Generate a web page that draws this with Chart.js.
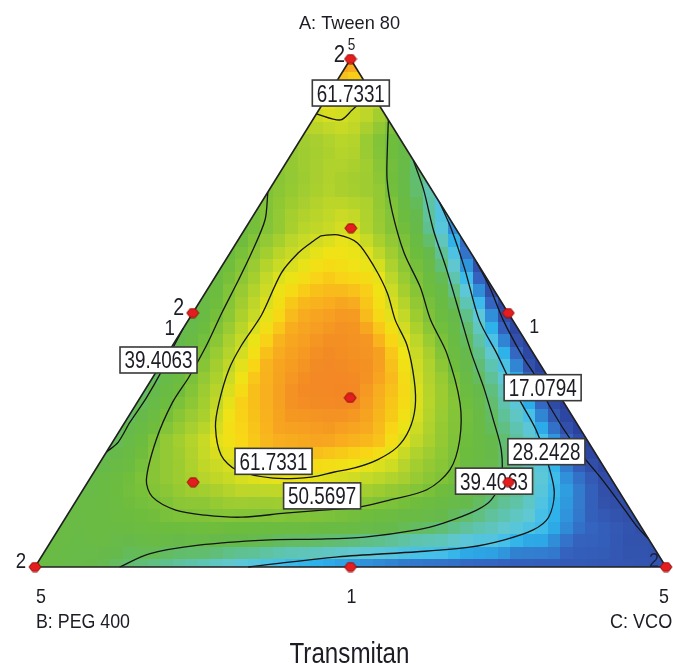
<!DOCTYPE html>
<html><head><meta charset="utf-8">
<script src="https://cdn.jsdelivr.net/npm/chart.js"></script>
<style>html,body{margin:0;padding:0;background:#fff;overflow:hidden}canvas{display:block}</style>
</head><body>
<canvas id="c" width="673" height="665" style="width:673px;height:665px"></canvas>
<script>
// ---- Components (axis titles) ----
const componentNames = ['A: Tween 80', 'B: PEG 400', 'C: VCO'];
const chartTitle = 'Transmitan';
const contourLevels = [17.0794, 28.2428, 39.4063, 50.5697, 61.7331];

// ---- Design points: [A %, C %] and replicate counts ----
const designA = [100, 0, 0, 50, 50, 0, 33.3, 66.7, 16.7, 16.7];
const designC = [0, 0, 100, 0, 50, 50, 33.3, 16.7, 16.7, 66.7];
const designReps = [2, 2, 2, 2, 1, 1, 1, 1, 1, 1];

// ---- Response surface read on a 12-step ternary lattice (row r: A=r/12, k: C=k/12) ----
const row00 = [45, 42, 37, 33, 28.5, 25, 23, 21, 20, 19, 18.5, 18, 17.5];
const row01 = [44, 45, 48, 49, 48, 47, 44, 40, 34, 28, 20, 17];
const row02 = [43, 50, 56, 60, 61, 59, 55, 48, 38, 25, 15];
const row03 = [39.5, 53, 61.5, 67, 68, 66, 56, 44, 29.5, 13];
const row04 = [39, 52, 65, 70, 70.5, 64, 51, 31.5, 12];
const row05 = [39.5, 55, 67, 70, 69, 56, 35, 13];
const row06 = [41, 57, 67, 69, 58.5, 41, 14];
const row07 = [46, 59, 64, 61.5, 45, 16];
const row08 = [47, 57, 60.5, 48.5, 22];
const row09 = [51, 56.5, 53.5, 32.5];
const row10 = [54, 57.5, 44];
const row11 = [62, 58];
const row12 = [69];
const fieldRows = [row00, row01, row02, row03, row04, row05, row06, row07, row08, row09, row10, row11, row12];

// ---- Contour lines, points as [A %, C %] ----
const contour17 = [[60.0,40.0],[55.1,44.5],[48.6,49.9],[41.3,56.7],[37.4,60.7],[31.9,65.5],[23.6,73.9],[17.1,81.4],[11.2,87.9],[7.9,91.5],[5.5,94.5]];
const contour28 = [[71.7,28.3],[66.3,32.9],[58.5,38.9],[48.6,46.1],[42.1,52.1],[36.8,56.8],[32.3,60.9],[27.0,65.9],[19.7,71.6],[14.6,75.0],[9.8,76.5],[7.3,75.3],[5.3,71.6],[3.9,66.9],[3.0,59.1],[2.0,47.0],[0,33.8]];
const contour39 = [[80.1,19.9],[74.2,24.5],[66.3,30.0],[58.5,36.0],[48.6,43.3],[42.1,48.1],[35.4,53.4],[28.9,58.2],[23.0,62.4],[17.1,65.3],[13.2,65.7],[11.2,64.4],[8.7,60.5],[7.3,56.9],[5.9,49.3],[5.5,42.1],[5.3,33.8],[4.3,23.8],[2.6,16.8],[0,13.4]];
const contour39b = [[47.0,0],[43.1,0.3],[38.4,0.8],[33.3,1.0],[28.5,0.8],[24.6,0.9],[22.6,0]];
const contour50 = [[73.8,0],[68.3,2.3],[61.8,3.4],[56.5,4.0],[50.0,4.6],[43.3,5.4],[37.4,5.7],[32.3,5.6],[25.0,6.7],[17.1,9.1],[13.8,11.7],[11.2,16.7],[10.2,21.9],[9.8,27.8],[10.6,34.3],[11.2,40.0],[11.8,45.5],[13.2,49.7],[15.2,54.5],[19.1,56.2],[25.0,54.8],[32.3,51.2],[42.1,44.2],[48.6,38.4],[55.1,33.5],[61.8,27.6],[69.7,21.8],[76.2,17.7],[82.7,14.5],[88.0,12.0]];
const contour61 = [[65.2,12.7],[65.4,15.3],[63.8,19.2],[59.1,24.2],[53.9,28.9],[48.6,32.8],[43.7,37.1],[36.8,41.7],[31.5,44.5],[27.0,45.8],[23.6,45.6],[21.1,43.7],[19.5,40.9],[18.7,38.1],[17.7,34.9],[17.5,29.0],[19.1,22.4],[22.0,18.5],[27.6,14.8],[32.3,13.0],[38.8,11.3],[43.7,10.9],[49.6,11.1],[57.9,10.1],[61.8,10.8],[63.8,11.8],[65.2,12.7]];
const contour61top = [[89.2,0],[88.0,4.4],[90.0,5.3],[91.7,6.0],[92.7,7.3]];

// ---- Contour labels ----
const labelText = ['61.7331', '39.4063', '61.7331', '50.5697', '39.4063', '28.2428', '17.0794'];
const labelA = [93.3, 40.75, 20.8, 14.0, 16.9, 22.7, 35.3];
const labelC = [3.4, -0.8, 27.4, 38.5, 64.3, 69.7, 62.8];

// ---------------------------------------------------------------
const FONT = '"Liberation Sans", Arial, sans-serif';
function tern(A, C) { return { x: (C + A / 2) / 100, y: A / 100 }; }
function pairs(list) { return list.map(p => tern(p[0], p[1])); }

const colorStops = [
  [5,[36,50,146]],[12,[42,62,156]],[17,[50,80,170]],[20,[52,102,194]],[23,[48,142,216]],
  [25,[44,176,234]],[27,[70,192,232]],[30,[96,200,212]],[33,[94,196,176]],[37,[96,190,122]],
  [41,[102,186,76]],[47,[108,188,62]],[52,[138,198,54]],[56,[170,208,46]],[59,[200,218,38]],
  [62,[238,228,22]],[64,[248,214,22]],[67,[248,175,30]],[70,[243,138,36]],[73,[238,112,40]]
];
function colorFor(v) {
  if (v <= colorStops[0][0]) return 'rgb(' + colorStops[0][1].join(',') + ')';
  for (let i = 1; i < colorStops.length; i++) {
    if (v <= colorStops[i][0]) {
      const [v0, c0] = colorStops[i - 1], [v1, c1] = colorStops[i];
      const t = (v - v0) / (v1 - v0);
      return 'rgb(' + c0.map((c, j) => Math.round(c + (c1[j] - c) * t)).join(',') + ')';
    }
  }
  return 'rgb(' + colorStops[colorStops.length - 1][1].join(',') + ')';
}
function node(r, k) { return fieldRows[r][k]; }
function sampleField(A, C) {
  const n = 12;
  const rf = A * n, kf = C * n;
  let i = Math.floor(rf), j = Math.floor(kf);
  if (i >= n) return node(n, 0);
  if (i + j >= n) j = n - i - 1;
  if (j < 0) j = 0;
  const fr = rf - i, fk = kf - j;
  const v00 = node(i, j), v10 = node(i + 1, j), v01 = node(i, j + 1);
  if (fr + fk <= 1 || i + j + 2 > n) {
    return v00 * (1 - fr - fk) + v10 * fr + v01 * fk;
  }
  const v11 = node(i + 1, j + 1);
  return v11 * (fr + fk - 1) + v10 * (1 - fk) + v01 * (1 - fr);
}

function vertexPixels(chart) {
  const x = chart.scales.x, y = chart.scales.y;
  const P = (A, C) => { const t = tern(A, C); return { x: x.getPixelForValue(t.x), y: y.getPixelForValue(t.y) }; };
  return { A: P(100, 0), B: P(0, 0), C: P(0, 100), AB: P(50, 0), AC: P(50, 50), BC: P(0, 50), P };
}

const fieldPlugin = {
  id: 'field',
  beforeDatasetsDraw(chart) {
    const { ctx } = chart; const xs = chart.scales.x, ys = chart.scales.y;
    const v = vertexPixels(chart);
    ctx.save();
    ctx.beginPath(); ctx.moveTo(v.A.x, v.A.y); ctx.lineTo(v.B.x, v.B.y); ctx.lineTo(v.C.x, v.C.y); ctx.closePath(); ctx.clip();
    const cell = 12.5;
    const nx = Math.ceil((v.C.x - v.B.x) / cell) + 1, ny = Math.ceil((v.B.y - v.A.y) / cell) + 1;
    for (let iy = 0; iy < ny; iy++) {
      const y0 = Math.round(v.A.y + iy * cell), y1 = Math.round(v.A.y + (iy + 1) * cell);
      for (let ix = 0; ix < nx; ix++) {
        const x0 = Math.round(v.B.x + ix * cell), x1 = Math.round(v.B.x + (ix + 1) * cell);
        let A = ys.getValueForPixel((y0 + y1) / 2), X = xs.getValueForPixel((x0 + x1) / 2);
        A = Math.min(1, Math.max(0, A));
        let C = X - A / 2;
        if (C < 0) C = 0;
        if (1 - A - C < 0) C = 1 - A;
        ctx.fillStyle = colorFor(sampleField(A, C));
        ctx.fillRect(x0, y0, x1 - x0, y1 - y0);
      }
    }
    ctx.restore();
  }
};

function drawText(ctx, str, x, y, size, opts) {
  opts = opts || {};
  ctx.save();
  ctx.font = size + 'px ' + FONT;
  const nat = ctx.measureText(str).width;
  const s = opts.width ? opts.width / nat : (opts.scale || 0.88);
  ctx.translate(x, y); ctx.scale(s, 1);
  ctx.textAlign = opts.align || 'center'; ctx.textBaseline = opts.baseline || 'alphabetic';
  ctx.fillStyle = opts.color || '#1c1c24';
  ctx.fillText(str, 0, 0);
  ctx.restore();
}

const labelPlugin = {
  id: 'labels',
  afterDatasetDraw(chart, args) {
    if (args.index !== 1) return;
    const { ctx } = chart; const v = vertexPixels(chart);
    labelText.forEach((t, i) => {
      const p = v.P(labelA[i], labelC[i]);
      const w = 77, h = 26;
      ctx.save();
      ctx.fillStyle = '#ffffff';
      ctx.fillRect(p.x - w / 2, p.y - h / 2, w, h);
      ctx.strokeStyle = '#3a3a3a'; ctx.lineWidth = 1.6;
      ctx.strokeRect(p.x - w / 2, p.y - h / 2, w, h);
      ctx.restore();
      drawText(ctx, t, p.x, p.y + 8.5, 23, { width: 68 });
    });
  },
  afterDraw(chart) {
    const { ctx } = chart; const v = vertexPixels(chart);
    drawText(ctx, componentNames[0], v.A.x - 1, v.A.y - 30, 19, { width: 101 });
    drawText(ctx, '5', v.A.x + 1, v.A.y - 9, 17, { scale: 0.8 });
    drawText(ctx, '2', v.A.x - 11, v.A.y + 3, 24, { scale: 0.85 });
    drawText(ctx, '2', v.AB.x - 14, v.AB.y + 2, 23, { scale: 0.85 });
    drawText(ctx, '1', v.AB.x - 23, v.AB.y + 22, 22, { scale: 0.85 });
    drawText(ctx, '1', v.AC.x + 26, v.AC.y + 20, 21, { scale: 0.85 });
    drawText(ctx, '2', v.B.x - 14, v.B.y + 1, 22, { scale: 0.85 });
    drawText(ctx, '5', v.B.x + 6, v.B.y + 36, 21, { scale: 0.85 });
    drawText(ctx, componentNames[1], v.B.x + 1, v.B.y + 61, 21, { width: 94, align: 'left' });
    drawText(ctx, '2', v.C.x - 12, v.C.y, 21, { scale: 0.85, color: '#1a2040' });
    drawText(ctx, '5', v.C.x - 2, v.C.y + 36, 21, { scale: 0.85 });
    drawText(ctx, componentNames[2], v.C.x - 56, v.C.y + 61, 21, { scale: 0.86, align: 'left' });
    drawText(ctx, '1', v.BC.x + 1, v.BC.y + 36, 21, { scale: 0.85 });
    drawText(ctx, chartTitle, v.BC.x - 1, v.BC.y + 96, 30, { width: 120 });
  }
};

function makeMarker() {
  const c = document.createElement('canvas'); c.width = 14; c.height = 11;
  const g = c.getContext('2d');
  g.beginPath(); g.moveTo(1, 5.5); g.lineTo(4.5, 1); g.lineTo(9.5, 1); g.lineTo(13, 5.5); g.lineTo(9.5, 10); g.lineTo(4.5, 10); g.closePath();
  g.fillStyle = '#e41e1e'; g.fill(); g.strokeStyle = '#8c0c0c'; g.lineWidth = 1; g.stroke();
  return c;
}

const contourStyle = { showLine: true, borderColor: '#141414', borderWidth: 1.3, pointRadius: 0, tension: 0.3, fill: false, clip: false };
const datasets = [
  { label: 'design', data: designA.map((a, i) => tern(a, designC[i])), pointStyle: makeMarker(), pointRadius: 6, showLine: false, clip: false },
  { label: 'outline', data: pairs([[100, 0], [0, 0], [0, 100], [100, 0]]), showLine: true, borderColor: '#202020', borderWidth: 1.6, pointRadius: 0, tension: 0, clip: false },
  Object.assign({ label: '17.0794', data: pairs(contour17) }, contourStyle),
  Object.assign({ label: '28.2428', data: pairs(contour28) }, contourStyle),
  Object.assign({ label: '39.4063', data: pairs(contour39) }, contourStyle),
  Object.assign({ label: '39.4063b', data: pairs(contour39b) }, contourStyle),
  Object.assign({ label: '50.5697', data: pairs(contour50) }, contourStyle),
  Object.assign({ label: '61.7331', data: pairs(contour61) }, contourStyle),
  Object.assign({ label: '61.7331top', data: pairs(contour61top) }, contourStyle)
];

new Chart(document.getElementById('c').getContext('2d'), {
  type: 'scatter',
  data: { datasets },
  options: {
    responsive: false, animation: false, devicePixelRatio: 1,
    layout: { padding: { left: 35, right: 2, top: 59, bottom: 98 } },
    scales: {
      x: { type: 'linear', min: 0, max: 1, display: false },
      y: { type: 'linear', min: 0, max: 1, display: false }
    },
    plugins: { legend: { display: false }, tooltip: { enabled: false } }
  },
  plugins: [fieldPlugin, labelPlugin]
});
</script>
</body></html>
